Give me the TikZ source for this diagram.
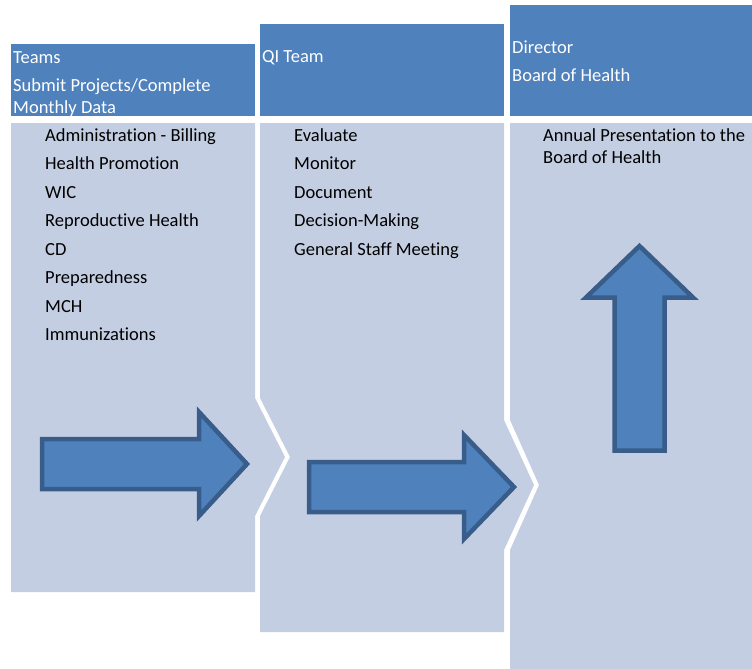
\documentclass[tikz,border=0pt]{standalone}
\usepackage{fontspec}
\setmainfont{Carlito}[Ligatures=NoCommon]
\definecolor{hdrblue}{RGB}{79,129,189}
\definecolor{bodyblue}{RGB}{196,206,226}
\definecolor{edgeblue}{RGB}{56,93,138}

\begin{document}
\begin{tikzpicture}[x=1pt,y=-1pt,
        hdr/.style={anchor=base west,inner sep=0pt,text=white,font=\fontsize{18.5}{22}\selectfont},
        item/.style={anchor=base west,inner sep=0pt,text=black,font=\fontsize{18.5}{22}\selectfont},
        bigarrow/.style={fill=hdrblue,draw=edgeblue,line width=4.5pt,miter limit=10}]
        \useasboundingbox (0,0) rectangle (752,669);
        % header bars
        \fill[hdrblue] (11,44) rectangle (255,116);
        \fill[hdrblue] (260,24) rectangle (504,116);
        \fill[hdrblue] (510,5) rectangle (752,116);
        % light bodies, each one pushing into the next
        \fill[bodyblue] (11,123) -- (255,123) -- (255,398) -- (285,457) -- (255,516) -- (255,592) -- (11,592) -- cycle;
        \fill[bodyblue] (260,123) -- (504,123) -- (504,420) -- (534,485) -- (504,550) -- (504,632)
            -- (260,632) -- (260,516) -- (290,457) -- (260,398) -- cycle;
        \fill[bodyblue] (510,123) -- (752,123) -- (752,669) -- (510,669) -- (510,550) -- (539,485) -- (510,420) -- cycle;
        % block arrows
        \draw[bigarrow] (42,439) -- (199,439) -- (199,412) -- (247,464) -- (199,516) -- (199,489) -- (42,489) -- cycle;
        \draw[bigarrow] (309,462) -- (464,462) -- (464,435) -- (514,487) -- (464,539) -- (464,512) -- (309,512) -- cycle;
        \draw[bigarrow] (614.5,450.5) -- (614.5,297.5) -- (586,297.5) -- (639.5,246) -- (693,297.5) -- (664.5,297.5) -- (664.5,450.5) -- cycle;
        % headers
        \node[hdr] (teams) at (13,63.5) {Teams};
        \node[hdr] (submit) at (13,91) {Submit Projects/Complete};
        \node[hdr] (monthly) at (13,113) {Monthly Data};
        \node[hdr] (qiteam) at (262,63) {QI Team};
        \node[hdr] (director) at (512,53) {Director};
        \node[hdr] (board) at (512,81.5) {Board of Health};
        % team list
        \node[item] (admin) at (45,141) {Administration - Billing};
        \node[item] (promo) at (45,169.5) {Health Promotion};
        \node[item] (wic) at (45,198) {WIC};
        \node[item] (repro) at (45,226.5) {Reproductive Health};
        \node[item] (cd) at (45,255) {CD};
        \node[item] (prep) at (45,283.5) {Preparedness};
        \node[item] (mch) at (45,312) {MCH};
        \node[item] (immun) at (45,340.5) {Immunizations};
        % QI team tasks
        \node[item] (evaluate) at (294,141) {Evaluate};
        \node[item] (monitor) at (294,169.5) {Monitor};
        \node[item] (document) at (294,198) {Document};
        \node[item] (decision) at (294,226.5) {Decision-Making};
        \node[item] (staffmtg) at (294,255) {General Staff Meeting};
        % director
        \node[item] (annual) at (543,141) {Annual Presentation to the};
        \node[item] (annualb) at (543,163) {Board of Health};
    \end{tikzpicture}
\end{document}
